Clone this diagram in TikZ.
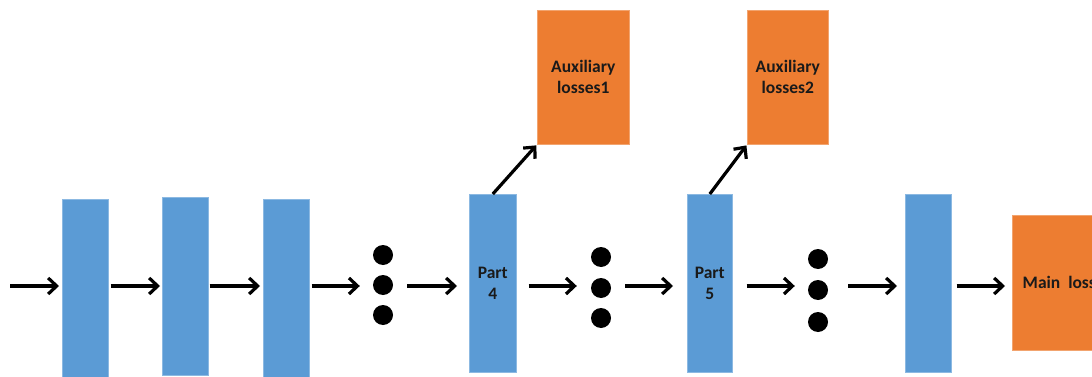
\documentclass[tikz,border=0pt]{standalone}
\usepackage{fontspec}
\setmainfont{Carlito}
\usetikzlibrary{arrows.meta}
\definecolor{partblue}{HTML}{5B9BD5}
\definecolor{lossorange}{HTML}{ED7D31}
\definecolor{txt}{HTML}{1A1A1A}
\begin{document}
\begin{tikzpicture}[x=1pt,y=-1pt,
  blk/.style={fill=partblue, draw=partblue!70!white, line width=0.6pt, inner sep=0pt, minimum width=46pt, anchor=north west,
     font=\fontsize{17.5}{21}\selectfont\bfseries, text=txt, align=center},
  loss/.style={fill=lossorange, draw=lossorange!70!white, line width=0.6pt, inner sep=0pt, anchor=north west,
     font=\fontsize{17.5}{21}\selectfont\bfseries, text=txt, align=center},
  dotcol/.style={inner sep=0pt, minimum width=46pt, minimum height=80pt},
  arr/.style={line width=3.2pt, -{Straight Barb[length=8.5pt,width=16pt,line width=3.2pt]}},
  dot/.style={fill=black, draw=none}]
\useasboundingbox (0,0) rectangle (1092,377);
\clip (0,0) rectangle (1092,377);
% blocks
\node[blk, minimum height=190pt] (b1) at (62,199) {};
\node[blk, minimum height=178pt] (b2) at (162,197) {};
\node[blk, minimum height=190pt] (b3) at (263,199) {};
\node[blk, minimum width=47pt, minimum height=178pt] (p4) at (469,194) {Part\\4};
\node[blk, minimum width=45pt, minimum height=178pt] (p5) at (687,194) {Part\\5};
\node[blk, minimum height=178pt] (b6) at (905,194) {};
% losses
\node[loss, minimum width=92pt, minimum height=134pt] (aux1) at (537,10) {Auxiliary\\losses1};
\node[loss, minimum width=81pt, minimum height=134pt] (aux2) at (747,10) {Auxiliary\\losses2};
\node[loss, minimum width=94pt, minimum height=135pt] (main) at (1012,215) {Main\ \ loss};
% dots
\node[dotcol] (d1) at (383,285) {};
\node[dotcol] (d2) at (601,288) {};
\node[dotcol] (d3) at (818,290) {};
\fill[dot] (d1.center) ++(0,-30) circle (10pt);
\fill[dot] (d1.center) circle (10pt);
\fill[dot] (d1.center) ++(0,30) circle (10pt);
\fill[dot] (d2.center) ++(0,-31) circle (10pt);
\fill[dot] (d2.center) circle (10pt);
\fill[dot] (d2.center) ++(0,30) circle (10pt);
\fill[dot] (d3.center) ++(0,-31) circle (10pt);
\fill[dot] (d3.center) circle (10pt);
\fill[dot] (d3.center) ++(0,32) circle (10pt);
% connectors
\coordinate (lvl) at (0,286);
\coordinate (in) at (10,286);
\draw[arr, shorten >=3pt] (in) -- (b1.west |- lvl);
\draw[arr, shorten <=2pt, shorten >=2pt] (b1.east |- lvl) -- (b2.west |- lvl);
\draw[arr, shorten <=1pt, shorten >=3pt] (b2.east |- lvl) -- (b3.west |- lvl);
\draw[arr, shorten <=2pt, shorten >=0pt] (b3.east |- lvl) -- (d1.west |- lvl);
\draw[arr, shorten <=1pt, shorten >=12pt] (d1.east |- lvl) -- (p4.west |- lvl);
\draw[arr, shorten <=12pt, shorten >=1pt] (p4.east |- lvl) -- (d2.west |- lvl);
\draw[arr, shorten <=1pt, shorten >=14pt] (d2.east |- lvl) -- (p5.west |- lvl);
\draw[arr, shorten <=14pt, shorten >=0pt] (p5.east |- lvl) -- (d3.west |- lvl);
\draw[arr, shorten <=7pt, shorten >=8pt] (d3.east |- lvl) -- (b6.west |- lvl);
\draw[arr, shorten <=5pt, shorten >=7pt] (b6.east |- lvl) -- (main.west |- lvl);
\draw[arr, shorten >=1pt] (p4.north) -- (aux1.south west);
\draw[arr, shorten >=1pt] (p5.north) -- (aux2.south west);
\end{tikzpicture}
\end{document}
